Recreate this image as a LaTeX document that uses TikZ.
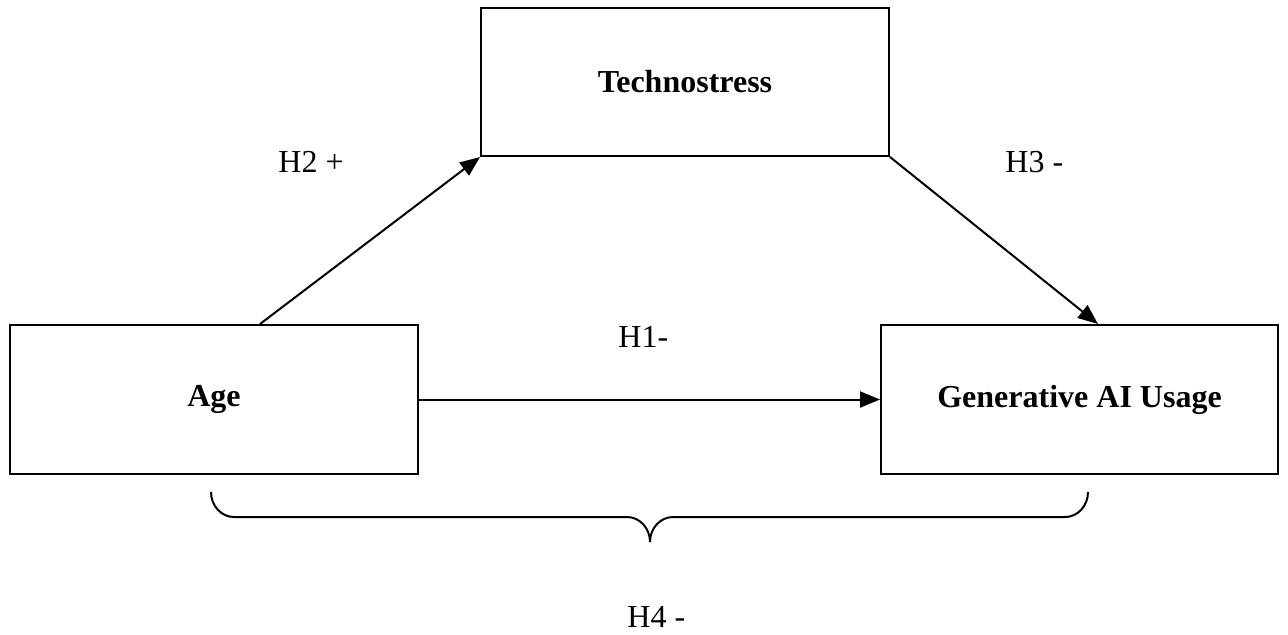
\documentclass[tikz,border=0pt]{standalone}
\usepackage{fontspec}
\setmainfont{Liberation Serif}
\usetikzlibrary{arrows.meta}
\begin{document}
\begin{tikzpicture}[x=0.5pt,y=-0.5pt,
  box/.style={draw,line width=1pt,inner sep=0pt,font=\fontsize{16}{19}\selectfont\bfseries},
  lbl/.style={inner sep=0pt,anchor=base west,font=\fontsize{16}{19}\selectfont},
  arr/.style={line width=1pt,-{Triangle[length=10pt,width=8pt]}},
  brace/.style={line width=1pt}]
\useasboundingbox (0,0) rectangle (1288,634);
\node[box,minimum width=204pt,minimum height=74pt] (tech) at (685,82) {Technostress};
\node[box,minimum width=204pt,minimum height=74.5pt] (age) at (214,399.5) {Age};
\node[box,minimum width=198.5pt,minimum height=74.5pt] (gen) at (1079.5,399.5) {Generative AI Usage};
\draw[arr] ([xshift=23pt]age.north) -- (tech.south west);
\draw[arr] (tech.south east) -- ([xshift=9.25pt]gen.north);
\draw[arr] (age.east) -- (gen.west);
\node[lbl] (h2) at (278,172) {H2 +};
\node[lbl] (h3) at (1005,172) {H3 -};
\node[lbl] (h1) at (618,347) {H1-};
\node[lbl] (h4) at (627,627) {H4 -};
\draw[brace] (211,492) .. controls (211,505.8) and (221.3,517) .. (234,517)
  -- (627,517) .. controls (639.7,517) and (650,528.2) .. (650,542)
  .. controls (650,528.2) and (660.3,517) .. (673,517)
  -- (1065,517) .. controls (1077.7,517) and (1088,505.8) .. (1088,492);
\end{tikzpicture}
\end{document}
